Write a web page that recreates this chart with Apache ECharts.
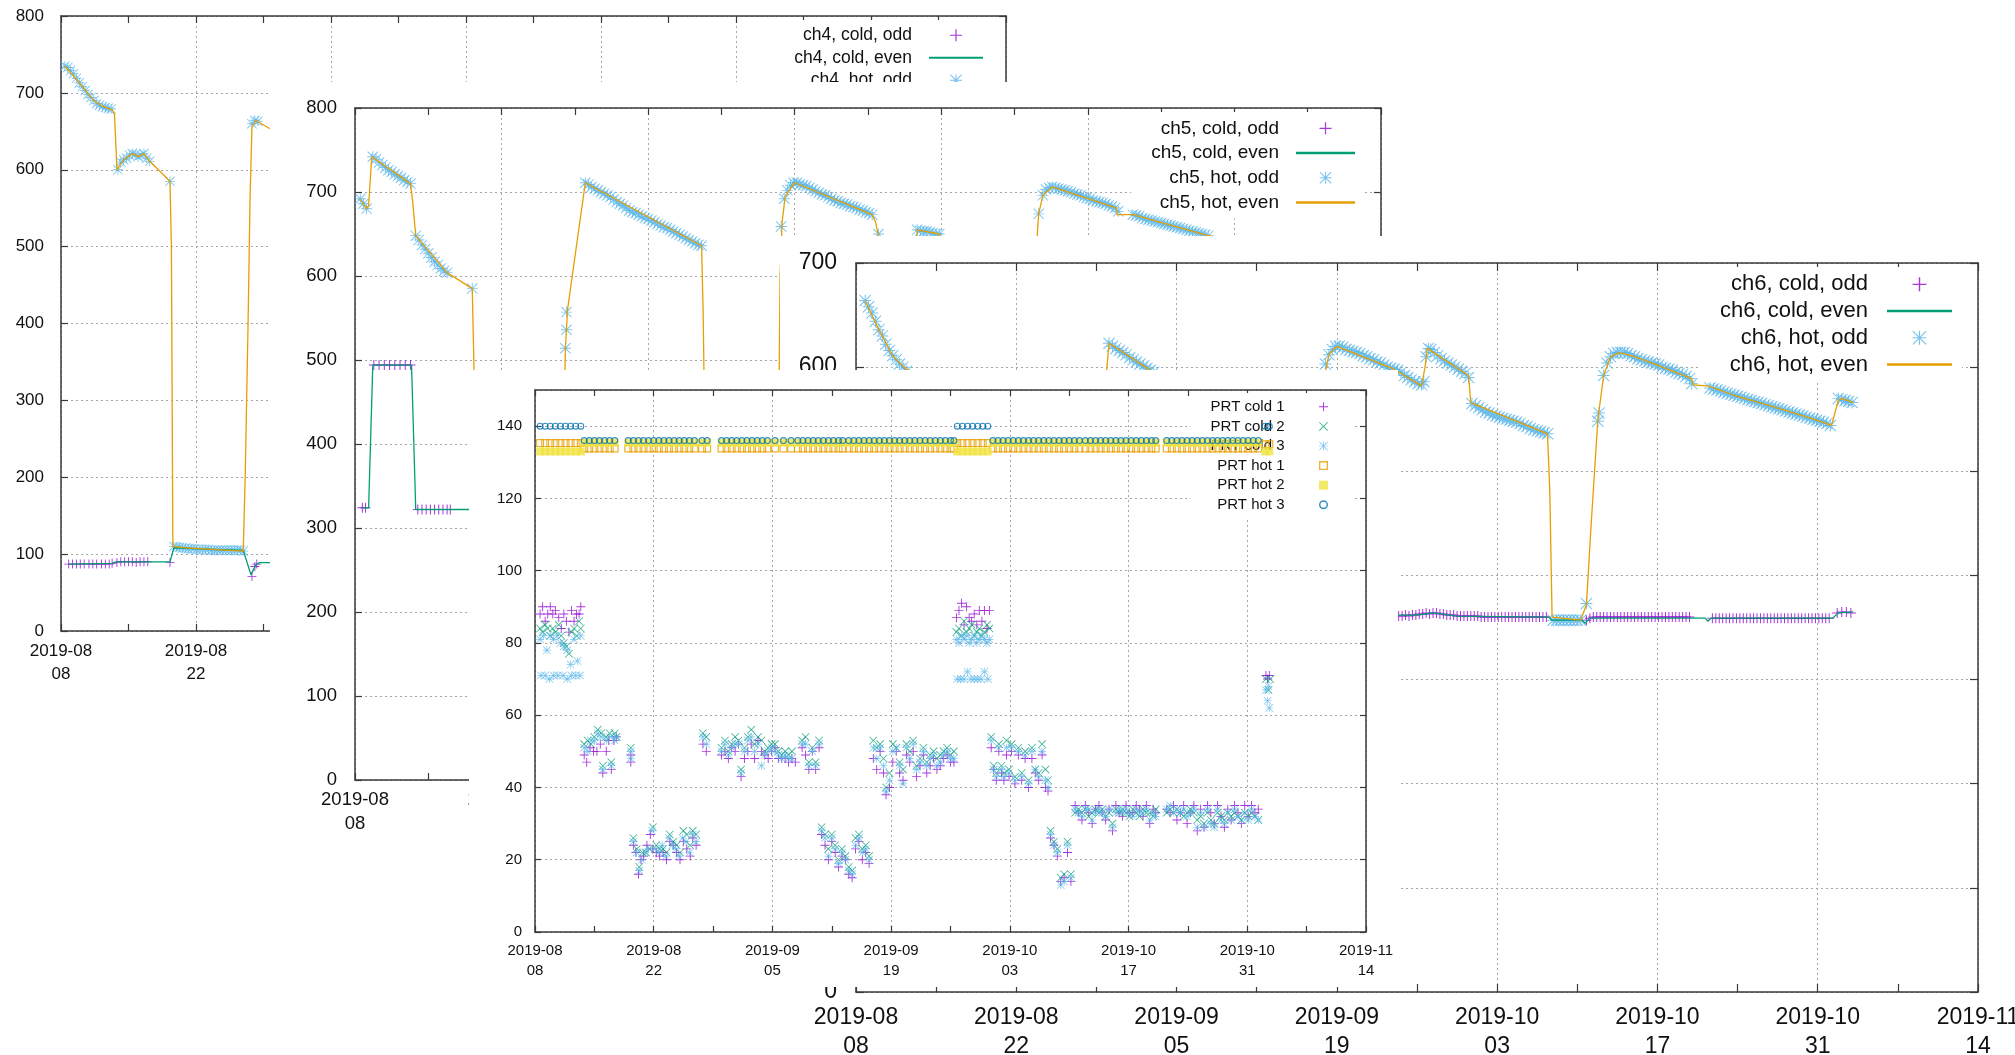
<!DOCTYPE html>
<html>
<head>
<meta charset="utf-8">
<script src="https://cdn.jsdelivr.net/npm/echarts@6/dist/echarts.min.js"></script>
<style>
html, body { margin: 0; padding: 0; background: #fff; width: 2015px; height: 1055px; overflow: hidden; }
.panel { position: absolute; background: #fff; }
#ch4 { left: 0; top: 0; width: 1010px; height: 700px; }
#ch5 { left: 270px; top: 82px; width: 1130px; height: 770px; }
#ch6 { left: 780px; top: 236px; width: 1235px; height: 819px; }
#prt { left: 469px; top: 370px; width: 929px; height: 617px; }
</style>
</head>
<body>
<div id="ch4" class="panel"></div>
<div id="ch5" class="panel"></div>
<div id="ch6" class="panel"></div>
<div id="prt" class="panel"></div>
<script>
// x is days since 2019-08-08, one major tick every 14 days
const dateTicks = ['2019-08\n08', '2019-08\n22', '2019-09\n05', '2019-09\n19', '2019-10\n03', '2019-10\n17', '2019-10\n31', '2019-11\n14']

// ---- ch4 ----
const ch4ColdOdd = [[0.8,87],[1.2,87],[1.6,87],[2.0,87],[2.4,87],[2.9,87],[3.3,87],[3.7,87],[4.2,87],[4.6,87],[5.0,87],[5.3,88],[5.8,89],[6.2,90],[6.6,90],[7.0,90],[7.4,90],[7.8,89],[8.2,90],[8.6,90],[9.0,90],[11.3,89],[19.8,71],[20.1,84],[20.3,87]]
const ch4ColdEven = [[0.8,87],[5.3,88],[5.7,90],[11.3,90],[11.7,108],[18.9,105],[19.7,73],[20.2,86],[20.6,89],[22,89]]
const ch4HotOdd = [[0.4,735],[0.7,733],[1.0,729],[1.3,725],[1.6,719],[1.9,713],[2.2,708],[2.5,703],[2.8,698],[3.1,694],[3.4,690],[3.7,686],[4.0,684],[4.3,682],[4.6,681],[4.9,680],[5.2,679],[5.9,600],[6.2,610],[6.5,613],[6.8,615],[7.1,619],[7.4,621],[7.7,620],[8.0,617],[8.3,619],[8.6,621],[8.9,615],[9.2,611],[11.3,585],
  [11.7,110],[12.0,109],[12.3,109],[12.6,108],[12.9,108],[13.2,107],[13.5,107],[13.8,107],[14.1,106],[14.4,106],[14.7,106],[15.0,106],[15.3,106],[15.6,105],[15.9,105],[16.2,105],[16.5,105],[16.8,105],[17.1,105],[17.4,105],[17.7,105],[18.0,105],[18.3,105],[18.6,105],[18.9,104],[19.8,660],[20.1,664],[20.4,663]]
const ch4HotEven = [[0.4,735],[1.9,713],[3.4,690],[4.4,682],[5.3,678],[5.55,672],[5.8,600],[6.5,613],[7.4,621],[8.0,617],[8.6,621],[9.2,611],[11.3,585],[11.45,500],[11.6,110],[13,108],[18.9,104],[19.1,200],[19.4,400],[19.6,560],[19.8,655],[20.2,664],[22,651]]

// ---- ch5 ----
const ch5ColdOdd = [[0.7,324],[1.0,324],[1.8,494],[2.3,494],[2.8,494],[3.3,494],[3.8,494],[4.3,494],[4.8,494],[5.3,494],[6.0,322],[6.4,322],[6.8,322],[7.2,322],[7.6,322],[8.0,322],[8.4,322],[8.8,322],[9.1,322]]
const ch5ColdEven = [[0.7,324],[1.3,324],[1.7,494],[5.4,494],[5.8,322],[11.0,322]]
const ch5HotOdd = [[0.5,692],[0.8,686],[1.1,680],[1.7,742],[2.0,739],[2.3,735],[2.6,732],[2.9,729],[3.2,726],[3.5,724],[3.8,721],[4.1,719],[4.4,717],[4.7,714],[5.0,712],[5.3,710],[5.8,648],[6.1,643],[6.4,637],[6.7,632],[7.0,627],[7.3,622],[7.6,617],[7.9,613],[8.2,609],[8.5,606],[8.8,604],[11.2,585],
  [20.1,514],[20.2,536],[20.2,557],[22.0,711],[22.3,709],[22.6,706],[22.9,704],[23.2,702],[23.5,700],[23.8,698],[24.1,696],[24.4,694],[24.7,691],[25.0,688],[25.3,686],[25.6,684],[25.9,681],[26.2,678],[26.5,676],[26.8,675],[27.1,673],[27.4,671],[27.7,669],[28.0,668],[28.3,666],[28.6,664],[28.9,662],[29.2,660],[29.5,658],[29.8,657],[30.1,655],[30.4,653],[30.7,651],[31.0,649],[31.3,647],[31.6,645],[31.9,643],[32.2,641],[32.5,639],[32.8,637],[33.1,636],
  [40.7,659],[41.0,692],[41.3,702],[41.6,708],[41.9,711],[42.2,711],[42.5,709],[42.8,708],[43.1,707],[43.4,705],[43.7,703],[44.0,701],[44.3,699],[44.6,697],[44.9,696],[45.2,694],[45.5,692],[45.8,690],[46.1,689],[46.4,687],[46.7,686],[47.0,685],[47.3,683],[47.6,682],[47.9,681],[48.2,679],[48.5,678],[48.8,676],[49.1,675],[49.4,673],[50.0,650],
  [53.7,655],[54.0,654],[54.3,653],[54.6,653],[54.9,652],[55.2,651],[55.5,650],[55.8,650],
  [65.3,674],[65.7,696],[66.0,703],[66.3,705],[66.6,706],[66.9,705],[67.2,704],[67.5,703],[67.8,702],[68.1,701],[68.4,700],[68.7,698],[69.0,697],[69.3,696],[69.6,694],[69.9,693],[70.2,692],[70.5,690],[70.8,689],[71.1,688],[71.4,687],[71.7,686],[72.0,684],[72.3,683],[72.6,681],[72.9,677],
  [74.3,673],[74.6,672],[74.9,671],[75.2,669],[75.5,668],[75.8,667],[76.1,666],[76.4,665],[76.7,664],[77.0,663],[77.3,662],[77.6,661],[77.9,660],[78.2,659],[78.5,658],[78.8,657],[79.1,656],[79.4,655],[79.7,654],[80.0,653],[80.3,652],[80.6,651],[80.9,650],[81.2,649],[81.5,648]]
const ch5HotEven = [[0.5,692],[1.1,680],[1.3,684],[1.6,742],[5.3,710],[5.5,690],[5.8,648],[8.8,604],[11.2,585],[11.35,500],[11.5,330],[19.8,330],[20.1,514],[20.3,560],[22.0,711],[33.1,636],[33.25,560],[33.5,330],[40.4,330],[40.6,600],[40.8,665],[41.1,695],[42.0,711],[49.4,673],[49.7,665],[50.0,648],[50.3,600],[53.4,600],[53.7,655],[55.8,650],[56.1,600],[64.9,600],[65.3,674],[65.7,696],[66.6,706],[72.7,681],[72.8,673],[74.3,673],[81.5,648],[87,636]]

// ---- ch6 ----
const ch6ColdOdd = [[47.4,361],[47.7,361],[48.0,362],[48.3,361],[48.6,362],[48.9,362],[49.2,363],[49.5,363],[49.8,364],[50.1,363],[50.4,364],[50.7,364],[51.0,363],[51.3,363],[51.6,362],[51.9,362],[52.2,362],[52.5,361],[52.8,361],[53.1,361],[53.4,361],[53.7,361],[54.0,361],[54.3,361],[54.6,360],[54.9,360],[55.2,360],[55.5,360],[55.8,360],[56.1,360],[56.4,360],[56.7,360],[57.0,360],[57.3,360],[57.6,360],[57.9,360],[58.2,360],[58.5,360],[58.8,360],[59.1,360],[59.4,360],[59.7,360],[60.0,360],[60.3,360],
  [63.8,357],[64.1,359],[64.4,360],[64.7,360],[65.0,360],[65.3,360],[65.6,360],[65.9,360],[66.2,360],[66.5,360],[66.8,360],[67.1,360],[67.4,360],[67.7,360],[68.0,360],[68.3,360],[68.6,360],[68.9,360],[69.2,360],[69.5,360],[69.8,360],[70.1,360],[70.4,360],[70.7,360],[71.0,360],[71.3,360],[71.6,360],[71.9,360],[72.2,360],[72.5,360],[72.8,360],
  [74.8,359],[75.1,359],[75.4,359],[75.7,359],[76.0,359],[76.3,359],[76.6,359],[76.9,359],[77.2,359],[77.5,359],[77.8,359],[78.1,359],[78.4,359],[78.7,359],[79.0,359],[79.3,359],[79.6,359],[79.9,359],[80.2,359],[80.5,359],[80.8,359],[81.1,359],[81.4,359],[81.7,359],[82.0,359],[82.3,359],[82.6,359],[82.9,359],[83.2,359],[83.5,359],[83.8,359],[84.1,359],[84.4,359],[84.7,359],[85.0,359],
  [85.7,364],[86.1,365],[86.5,365],[86.9,364]]
const ch6ColdEven = [[0.5,361],[49,362],[50.5,364],[52.5,361],[60.5,360],[60.8,357],[63.4,357],[63.7,354],[64.1,359],[73,359],[74.2,359],[74.4,356],[74.7,359],[85.3,359],[85.8,364],[87.1,365]]
const ch6HotOdd = [[0.8,664],[1.1,658],[1.4,652],[1.7,644],[2.0,636],[2.3,630],[2.6,622],[2.9,616],[3.2,611],[3.5,607],[3.8,603],[4.1,600],[4.4,596],[4.7,592],
  [22.1,623],[22.4,620],[22.7,618],[23.0,616],[23.3,614],[23.6,612],[23.9,609],[24.2,607],[24.5,605],[24.8,603],[25.1,601],[25.4,599],[25.7,597],[26.0,595],
  [41.0,603],[41.3,612],[41.6,617],[41.9,620],[42.2,620],[42.5,619],[42.8,617],[43.1,616],[43.4,615],[43.7,614],[44.0,613],[44.3,611],[44.6,610],[44.9,608],[45.2,607],[45.5,605],[45.8,604],[46.1,602],[46.4,600],[46.7,599],[47.0,598],[47.3,597],[47.6,595],[47.9,592],[48.2,590],[48.5,588],[48.8,586],[49.1,584],[49.4,583],[49.6,586],
  [49.8,610],[50.0,618],[50.2,617],[50.5,614],[50.8,611],[51.1,608],[51.4,606],[51.7,604],[52.0,602],[52.3,600],[52.6,598],[52.9,596],[53.2,594],[53.5,590],[53.8,565],[54.1,563],[54.4,561],[54.7,559],[55.0,557],[55.3,556],[55.6,554],[55.9,553],[56.2,552],[56.5,551],[56.8,550],[57.1,549],[57.4,548],[57.7,547],[58.0,546],[58.3,544],[58.6,543],[58.9,541],[59.2,540],[59.5,539],[59.8,538],[60.1,537],[60.4,536],
  [60.9,357],[61.2,357],[61.5,357],[61.8,357],[62.1,357],[62.4,357],[62.7,357],[63.0,357],[63.3,357],
  [63.8,373],[64.8,548],[64.9,556],[65.3,592],[65.6,604],[65.9,610],[66.2,613],[66.5,614],[66.8,614],[67.1,614],[67.4,613],[67.7,611],[68.0,610],[68.3,608],[68.6,607],[68.9,606],[69.2,605],[69.5,604],[69.8,603],[70.1,602],[70.4,600],[70.7,599],[71.0,598],[71.3,597],[71.6,595],[71.9,594],[72.2,593],[72.5,591],[72.8,589],[73.0,584],
  [74.6,580],[74.9,579],[75.2,578],[75.5,577],[75.8,576],[76.1,575],[76.4,574],[76.7,573],[77.0,572],[77.3,571],[77.6,570],[77.9,569],[78.2,568],[78.5,567],[78.8,566],[79.1,565],[79.4,564],[79.7,563],[80.0,562],[80.3,561],[80.6,560],[80.9,559],[81.2,558],[81.5,557],[81.8,556],[82.1,555],[82.4,554],[82.7,553],[83.0,552],[83.3,551],[83.6,550],[83.9,549],[84.2,548],[84.5,547],[84.8,546],[85.1,544],
  [85.8,570],[86.1,569],[86.4,568],[86.7,567],[87.0,566]]
const ch6HotEven = [[0.8,664],[2.0,636],[3.2,611],[4.2,600],[6,585],[10.5,570],[11,365],[21,362],[21.6,560],[22.1,623],[26,595],[33,575],[33.3,365],[40.5,362],[40.9,590],[41.3,612],[42.0,620],[47.0,598],[49.4,582],[49.7,600],[49.9,618],[53.5,592],[53.7,566],[60.4,536],[60.6,480],[60.8,360],[63.3,357],[63.8,372],[64.2,447],[64.8,550],[65.3,592],[65.9,610],[66.7,614],[68.0,610],[70.0,602],[73.0,589],[73.1,583],[74.4,582],[76.7,573],[80.1,562],[83.4,551],[85.2,544],[85.8,568],[86.1,570],[87.1,566]]

// ---- PRT ----
const prtHotDays = [0.6,1.2,1.8,2.4,3.0,3.6,4.2,4.8,5.4,
  5.8,6.4,7.0,7.6,8.2,8.8,9.4,
  11.0,11.6,12.2,12.8,13.4,14.0,14.6,15.2,15.8,16.4,17.0,17.6,18.2,18.8,
  19.7,20.3,
  22.0,22.6,23.2,23.8,24.4,25.0,25.6,26.2,26.8,27.4,
  28.3,29.3,30.2,
  31.0,31.6,32.2,32.8,33.4,34.0,34.6,35.2,35.8,36.3,
  37.0,37.6,38.2,38.8,39.4,40.0,40.6,41.2,41.8,42.4,43.0,43.6,44.2,44.8,45.4,46.0,46.6,47.2,47.8,48.4,49.0,49.4,
  49.8,50.4,51.0,51.6,52.2,52.8,53.4,
  54.0,54.6,55.2,55.8,56.4,57.0,57.6,58.2,58.8,59.4,60.0,60.6,61.2,61.8,62.4,63.0,63.6,64.2,64.9,65.5,66.1,66.7,67.3,67.9,68.5,69.1,69.7,70.3,70.9,71.5,72.1,72.7,73.2,
  74.5,75.1,75.7,76.3,76.9,77.5,78.1,78.7,79.3,79.9,80.5,81.1,81.7,82.3,82.9,83.5,84.1,84.7,85.3,
  86.1,86.6]
const prtHot1 = [135.3,135.3,135.3,135.3,135.3,135.3,135.3,135.3,135.3,
  133.8,133.8,133.8,133.8,133.8,133.8,133.8,
  133.8,133.8,133.8,133.8,133.8,133.8,133.8,133.8,133.8,133.8,133.8,133.8,133.8,133.8,
  133.8,133.8,
  133.8,133.8,133.8,133.8,133.8,133.8,133.8,133.8,133.8,133.8,
  133.8,133.8,133.8,
  133.8,133.8,133.8,133.8,133.8,133.8,133.8,133.8,133.8,133.8,
  133.8,133.8,133.8,133.8,133.8,133.8,133.8,133.8,133.8,133.8,133.8,133.8,133.8,133.8,133.8,133.8,133.8,133.8,133.8,133.8,133.8,133.8,
  135.3,135.3,135.3,135.3,135.3,135.3,135.3,
  133.8,133.8,133.8,133.8,133.8,133.8,133.8,133.8,133.8,133.8,133.8,133.8,133.8,133.8,133.8,133.8,133.8,133.8,133.8,133.8,133.8,133.8,133.8,133.8,133.8,133.8,133.8,133.8,133.8,133.8,133.8,133.8,133.8,
  133.8,133.8,133.8,133.8,133.8,133.8,133.8,133.8,133.8,133.8,133.8,133.8,133.8,133.8,133.8,133.8,133.8,133.8,133.8,
  135,135]
const prtHot2 = [133,133,133,133,133,133,133,133,133,
  135.4,135.4,135.4,135.4,135.4,135.4,135.4,
  135.4,135.4,135.4,135.4,135.4,135.4,135.4,135.4,135.4,135.4,135.4,135.4,135.4,135.4,
  135.4,135.4,
  135.4,135.4,135.4,135.4,135.4,135.4,135.4,135.4,135.4,135.4,
  135.4,135.4,135.4,
  135.4,135.4,135.4,135.4,135.4,135.4,135.4,135.4,135.4,135.4,
  135.4,135.4,135.4,135.4,135.4,135.4,135.4,135.4,135.4,135.4,135.4,135.4,135.4,135.4,135.4,135.4,135.4,135.4,135.4,135.4,135.4,135.4,
  133,133,133,133,133,133,133,
  135.4,135.4,135.4,135.4,135.4,135.4,135.4,135.4,135.4,135.4,135.4,135.4,135.4,135.4,135.4,135.4,135.4,135.4,135.4,135.4,135.4,135.4,135.4,135.4,135.4,135.4,135.4,135.4,135.4,135.4,135.4,135.4,135.4,
  135.4,135.4,135.4,135.4,135.4,135.4,135.4,135.4,135.4,135.4,135.4,135.4,135.4,135.4,135.4,135.4,135.4,135.4,135.4,
  133,133]
const prtHot3 = [140,140,140,140,140,140,140,140,140,
  136,136,136,136,136,136,136,
  136,136,136,136,136,136,136,136,136,136,136,136,136,136,
  136,136,
  136,136,136,136,136,136,136,136,136,136,
  136,136,136,
  136,136,136,136,136,136,136,136,136,136,
  136,136,136,136,136,136,136,136,136,136,136,136,136,136,136,136,136,136,136,136,136,136,
  140,140,140,140,140,140,140,
  136,136,136,136,136,136,136,136,136,136,136,136,136,136,136,136,136,136,136,136,136,136,136,136,136,136,136,136,136,136,136,136,136,
  136,136,136,136,136,136,136,136,136,136,136,136,136,136,136,136,136,136,136,
  140,140]

const prtCold1 = [[0.6,88],[0.9,90],[1.2,86],[1.5,88],[1.8,90],[2.1,88],[2.4,89],[2.8,87],[3.1,84],[3.4,88],[3.7,86],[4.0,83],[4.3,89],[4.6,86],[4.9,88],[5.2,88],[5.4,90],
  [5.8,49],[6.1,47],[6.5,51],[6.9,50],[7.3,50],[7.7,52],[8.0,44],[8.4,50],[8.7,53],[9.0,45],[9.3,53],[9.6,54],
  [11.3,47],[11.3,49],
  [11.6,24],[11.9,22],[12.2,16],[12.5,20],[12.8,21],[13.2,24],[13.6,27],[13.9,23],[14.3,22],[14.7,21],[15.1,22],[15.5,20],[15.9,25],[16.3,24],[16.7,22],[17.1,20],[17.5,25],[17.9,23],[18.3,21],[18.6,26],[19.0,24],
  [19.8,52],[20.2,50],
  [22.0,49],[22.4,50],[22.8,48],[23.2,51],[23.6,50],[24.0,52],[24.3,43],[24.7,48],[25.1,50],[25.5,52],[25.9,48],[26.3,53],[26.7,50],[27.1,49],[27.5,48],[27.9,50],[28.3,51],[28.7,48],[29.1,48],[29.5,48],[29.9,47],[30.3,48],[30.7,47],[31.5,51],[31.9,49],[32.3,45],[32.7,50],[33.1,45],[33.5,51],
  [33.8,27],[34.2,24],[34.6,20],[35.0,25],[35.4,22],[35.8,18],[36.2,21],[36.6,20],[37.0,16],[37.4,15],[37.8,23],[38.2,25],[38.6,20],[39.0,22],[39.4,19],
  [39.9,48],[40.3,45],[40.7,50],[41.1,44],[41.4,38],[41.8,40],[42.2,47],[42.6,50],[43.0,44],[43.4,42],[43.8,49],[44.2,47],[44.6,50],[45.0,43],[45.4,46],[45.8,49],[46.2,44],[46.6,46],[47.0,48],[47.4,45],[47.8,46],[48.2,48],[48.6,49],[49.0,47],[49.4,47],
  [49.7,87],[50.0,89],[50.3,91],[50.6,85],[50.9,90],[51.2,87],[51.5,86],[51.8,88],[52.1,85],[52.4,89],[52.7,86],[53.0,89],[53.3,84],[53.6,89],
  [53.8,51],[54.1,45],[54.4,42],[54.7,50],[55.0,44],[55.3,42],[55.6,49],[55.9,43],[56.2,50],[56.6,41],[57.0,49],[57.4,42],[57.8,48],[58.2,40],[58.6,48],[59.0,44],[59.4,42],[59.8,49],[60.2,40],[60.5,39],
  [60.8,26],[61.2,24],[61.6,21],[62.0,14],[62.4,15],[62.8,22],[63.2,14],
  [63.7,35],[64.1,33],[64.5,31],[64.9,35],[65.3,33],[65.7,30],[66.1,34],[66.5,35],[66.9,33],[67.3,31],[67.7,34],[68.1,28],[68.5,35],[68.9,33],[69.3,32],[69.7,35],[70.1,33],[70.5,33],[70.9,35],[71.3,34],[71.7,32],[72.1,35],[72.5,30],[72.9,34],[73.2,33],
  [74.5,34],[74.9,33],[75.3,35],[75.7,31],[76.1,33],[76.5,35],[76.9,30],[77.3,33],[77.7,35],[78.1,28],[78.5,34],[78.9,29],[79.3,35],[79.7,33],[80.1,30],[80.5,35],[80.9,32],[81.3,29],[81.7,34],[82.1,31],[82.5,35],[82.9,33],[83.3,30],[83.7,35],[84.1,32],[84.5,35],[84.9,33],[85.3,34],
  [86.2,71],[86.4,70],[86.6,71]]
const prtCold2 = [[0.6,84],[0.9,83],[1.2,85],[1.5,84],[1.8,82],[2.1,84],[2.4,83],[2.8,85],[3.1,82],[3.4,80],[3.7,79],[4.0,77],[4.3,83],[4.6,84],[4.9,82],[5.2,86],[5.4,84],
  [5.8,52],[6.2,53],[6.6,52],[7.0,54],[7.4,56],[7.8,55],[8.0,46],[8.4,54],[8.8,55],[9.0,47],[9.4,55],[9.6,54],
  [11.3,51],
  [11.6,26],[12.0,23],[12.3,18],[12.7,22],[13.1,22],[13.5,23],[13.9,29],[14.3,24],[14.7,23],[15.1,23],[15.5,22],[15.9,27],[16.3,25],[16.7,24],[17.1,22],[17.5,28],[17.9,27],[18.3,24],[18.6,28],[19.0,27],
  [19.8,55],[20.2,54],
  [22.0,51],[22.4,53],[22.8,50],[23.2,52],[23.6,54],[24.0,53],[24.3,45],[24.7,51],[25.1,54],[25.5,56],[25.9,52],[26.3,54],[26.7,53],[27.1,50],[27.5,51],[27.9,52],[28.3,52],[28.7,50],[29.1,49],[29.5,50],[29.9,49],[30.3,50],[31.5,53],[31.9,54],[32.3,47],[32.7,51],[33.1,47],[33.5,53],
  [33.8,29],[34.2,27],[34.6,23],[35.0,27],[35.4,24],[35.8,20],[36.2,23],[36.6,21],[37.0,18],[37.4,17],[37.8,26],[38.2,27],[38.6,23],[39.0,24],[39.4,21],
  [39.9,53],[40.3,51],[40.7,52],[41.1,48],[41.4,40],[41.8,44],[42.2,52],[42.6,51],[43.0,47],[43.4,45],[43.8,52],[44.2,50],[44.6,53],[45.0,46],[45.4,48],[45.8,51],[46.2,47],[46.6,49],[47.0,50],[47.4,48],[47.8,49],[48.2,50],[48.6,51],[49.0,49],[49.4,50],
  [49.7,83],[50.0,84],[50.3,82],[50.6,86],[50.9,83],[51.2,84],[51.5,85],[51.8,82],[52.1,83],[52.4,84],[52.7,82],[53.0,83],[53.3,85],[53.6,84],
  [53.8,54],[54.1,46],[54.4,44],[54.7,52],[55.0,46],[55.3,44],[55.6,53],[55.9,45],[56.2,52],[56.6,43],[57.0,51],[57.4,44],[57.8,50],[58.2,42],[58.6,51],[59.0,45],[59.4,44],[59.8,52],[60.2,45],[60.5,42],
  [60.8,28],[61.2,25],[61.6,23],[62.0,15],[62.4,16],[62.8,25],[63.2,16],
  [63.7,33],[64.1,34],[64.5,33],[64.9,34],[65.3,32],[65.7,33],[66.1,34],[66.5,33],[66.9,34],[67.3,32],[67.7,33],[68.1,30],[68.5,34],[68.9,33],[69.3,34],[69.7,33],[70.1,32],[70.5,34],[70.9,33],[71.3,32],[71.7,34],[72.1,33],[72.5,33],[72.9,32],[73.2,34],
  [74.5,33],[74.9,34],[75.3,33],[75.7,34],[76.1,33],[76.5,32],[76.9,33],[77.3,34],[77.7,33],[78.1,31],[78.5,32],[78.9,30],[79.3,33],[79.7,31],[80.1,30],[80.5,33],[80.9,32],[81.3,31],[81.7,33],[82.1,32],[82.5,33],[82.9,32],[83.3,31],[83.7,33],[84.1,32],[84.5,33],[84.9,32],[85.3,31],
  [86.2,70],[86.5,67],[86.7,70]]
const prtCold3 = [[0.6,81],[1.0,82],[1.4,78],[1.8,82],[2.2,81],[2.6,82],[3.0,80],[3.4,79],[3.8,78],[4.2,74],[4.6,81],[5.0,75],[5.4,82],
  [0.7,71],[1.2,71],[1.7,70],[2.2,71],[2.7,71],[3.3,71],[3.8,70],[4.3,71],[4.8,71],[5.3,71],
  [5.8,51],[6.2,50],[6.6,53],[7.0,53],[7.4,55],[7.8,54],[8.0,45],[8.4,53],[8.8,54],[9.0,46],[9.4,53],[9.6,54],
  [11.3,50],[11.3,48],
  [11.6,25],[12.0,22],[12.3,17],[12.6,20],[13.0,22],[13.4,23],[13.8,28],[14.2,23],[14.6,22],[15.0,24],[15.4,21],[15.8,26],[16.2,24],[16.6,23],[17.0,21],[17.4,26],[17.8,25],[18.2,22],[18.6,27],[19.0,25],
  [19.8,54],[20.2,52],
  [22.0,50],[22.4,52],[22.8,49],[23.2,51],[23.6,52],[24.0,52],[24.3,44],[24.7,50],[25.1,53],[25.5,54],[25.9,50],[26.3,52],[26.7,46],[27.1,49],[27.5,50],[27.9,51],[28.3,50],[28.7,49],[29.1,48],[29.5,49],[29.9,48],[30.3,48],[31.5,52],[31.9,52],[32.3,46],[32.7,50],[33.1,46],[33.5,52],
  [33.8,28],[34.2,26],[34.6,21],[35.0,26],[35.4,23],[35.8,19],[36.2,22],[36.6,20],[37.0,17],[37.4,16],[37.8,24],[38.2,26],[38.6,22],[39.0,23],[39.4,20],
  [39.9,51],[40.3,48],[40.7,51],[41.1,46],[41.4,39],[41.8,42],[42.2,50],[42.6,51],[43.0,46],[43.4,41],[43.8,51],[44.2,48],[44.6,52],[45.0,45],[45.4,47],[45.8,50],[46.2,46],[46.6,48],[47.0,49],[47.4,46],[47.8,47],[48.2,49],[48.6,50],[49.0,48],[49.4,48],
  [49.7,81],[50.0,80],[50.3,82],[50.6,81],[50.9,82],[51.2,80],[51.5,81],[51.8,82],[52.1,80],[52.4,81],[52.7,82],[53.0,81],[53.3,80],[53.6,81],
  [49.8,70],[50.2,70],[50.6,70],[51.0,72],[51.4,70],[51.8,70],[52.2,70],[52.6,70],[53.0,72],[53.4,70],
  [53.8,53],[54.1,45],[54.4,43],[54.7,51],[55.0,45],[55.3,43],[55.6,51],[55.9,44],[56.2,51],[56.6,42],[57.0,50],[57.4,43],[57.8,49],[58.2,41],[58.6,50],[59.0,45],[59.4,43],[59.8,50],[60.2,42],[60.5,40],
  [60.8,27],[61.2,24],[61.6,22],[62.0,13],[62.4,14],[62.8,24],[63.2,15],
  [63.7,34],[64.1,33],[64.5,32],[64.9,34],[65.3,34],[65.7,31],[66.1,33],[66.5,34],[66.9,33],[67.3,32],[67.7,34],[68.1,29],[68.5,33],[68.9,34],[69.3,33],[69.7,34],[70.1,33],[70.5,32],[70.9,34],[71.3,33],[71.7,33],[72.1,34],[72.5,31],[72.9,33],[73.2,32],
  [74.5,34],[74.9,35],[75.3,33],[75.7,34],[76.1,33],[76.5,34],[76.9,32],[77.3,33],[77.7,34],[78.1,29],[78.5,33],[78.9,29],[79.3,34],[79.7,30],[80.1,29],[80.5,34],[80.9,31],[81.3,30],[81.7,33],[82.1,31],[82.5,34],[82.9,32],[83.3,31],[83.7,33],[84.1,31],[84.5,34],[84.9,32],[85.3,31],
  [86.2,67],[86.4,64],[86.5,68],[86.6,62]]

// ---- styling ----
const FONT = '"Liberation Sans", Arial, sans-serif'
const TEXT = '#111'
const AXIS = '#3a3a3a'
const GRID = '#a6a6a6'
const PURPLE = '#9400d3'
const GREEN = '#009e73'
const CYAN = '#56b4e9'
const ORANGE = '#e69f00'
const YELLOW = '#f0e442'
const BLUE = '#0072b2'

// gnuplot point types as filled paths
const PLUS = 'path://M9,0h2v20h-2zM0,9h20v2h-20z'
const CROSS = 'path://M0,1.4L1.4,0L20,18.6L18.6,20zM18.6,0L20,1.4L1.4,20L0,18.6z'
const STAR = 'path://M9.2,0h1.6v20h-1.6zM0,9.2h20v1.6h-20zM0,1.2L1.2,0L20,18.8L18.8,20zM18.8,0L20,1.2L1.2,20L0,18.8z'
const OPEN_SQ = 'path://M0,0h10v10h-10zM1.5,1.5v7h7v-7z'
const FILL_SQ = 'path://M0,0h10v10h-10z'
const OPEN_CIRCLE = 'path://M10,0A10,10 0 1,1 10,20A10,10 0 1,1 10,0zM10,3.2A6.8,6.8 0 1,0 10,16.8A6.8,6.8 0 1,0 10,3.2z'
const LINE_KEY = 'path://M0,0H100V4H0z'

const dateLabel = (v) => dateTicks[Math.round(v / 14)]

const buildAxes = (o) => {
  const line = { show: true, onZero: false, lineStyle: { color: AXIS, width: 1.5 } }
  const tick = { show: true, inside: true, length: o.tick, lineStyle: { color: AXIS, width: 1.2 } }
  const minor = { show: true, splitNumber: 2, length: o.tick, lineStyle: { color: AXIS, width: 1.2 } }
  const grid = { show: true, lineStyle: { color: GRID, width: 1, type: [2, 3] } }
  const xBase = { type: 'value', min: 0, max: 98, interval: 14, axisLine: line, axisTick: tick, minorTick: minor }
  const yBase = { type: 'value', min: 0, max: o.ymax, interval: o.yint, axisLine: line, axisTick: tick }
  return {
    xAxis: [
      Object.assign({}, xBase, {
        position: 'bottom', splitLine: grid,
        axisLabel: { fontFamily: FONT, fontSize: o.font, lineHeight: o.lh, margin: o.xm, color: TEXT, formatter: dateLabel }
      }),
      Object.assign({}, xBase, { position: 'top', splitLine: { show: false }, axisLabel: { show: false } })
    ],
    yAxis: [
      Object.assign({}, yBase, {
        position: 'left', splitLine: grid,
        axisLabel: { fontFamily: FONT, fontSize: o.font, margin: o.ym, color: TEXT, showMaxLabel: o.showMax }
      }),
      Object.assign({}, yBase, { position: 'right', splitLine: { show: false }, axisLabel: { show: false } })
    ]
  }
}

const buildLegend = (o) => ({
  orient: 'vertical',
  align: 'right',
  right: o.right,
  top: o.top,
  itemWidth: o.iw,
  itemHeight: o.ih,
  itemGap: 0,
  padding: o.padding || [4, 10, 4, 20],
  backgroundColor: '#fff',
  z: 1,
  selectedMode: false,
  textStyle: { fontFamily: FONT, fontSize: o.font, lineHeight: o.lh, color: TEXT, padding: [0, o.pad, 0, 0] },
  data: o.data
})

const points = (name, data, symbol, size, color) => ({
  name, type: 'scatter', data, symbol, symbolSize: size, itemStyle: { color }, silent: true
})
const trace = (name, data, color) => ({
  name, type: 'line', data, symbol: 'none', showSymbol: false, silent: true,
  lineStyle: { color, width: 1.3 }, itemStyle: { color }
})

const channelChart = (id, ch, layout) => {
  const chart = echarts.init(document.getElementById(id))
  const [coldOdd, coldEven, hotOdd, hotEven] = layout.data
  chart.setOption(Object.assign({
    animation: false,
    grid: Object.assign({ outerBoundsMode: 'none', containLabel: false }, layout.grid),
    legend: buildLegend(Object.assign({}, layout.legend, {
      data: [
        { name: ch + ', cold, odd', icon: PLUS },
        { name: ch + ', cold, even', icon: LINE_KEY },
        { name: ch + ', hot, odd', icon: STAR },
        { name: ch + ', hot, even', icon: LINE_KEY }
      ]
    })),
    series: [
      points(ch + ', cold, odd', coldOdd, PLUS, layout.plus, PURPLE),
      trace(ch + ', cold, even', coldEven, GREEN),
      points(ch + ', hot, odd', hotOdd, STAR, layout.star, CYAN),
      trace(ch + ', hot, even', hotEven, ORANGE)
    ]
  }, buildAxes(layout.axes)))
}

channelChart('ch4', 'ch4', {
  data: [ch4ColdOdd, ch4ColdEven, ch4HotOdd, ch4HotEven],
  grid: { left: 61, top: 16, width: 945, height: 615 },
  axes: { ymax: 800, yint: 100, font: 17, lh: 23, xm: 9, ym: 17, tick: 7 },
  legend: { right: 17, top: 20, iw: 54, ih: 12, font: 17.5, lh: 22.5, pad: 12 },
  plus: 9, star: 10
})

channelChart('ch5', 'ch5', {
  data: [ch5ColdOdd, ch5ColdEven, ch5HotOdd, ch5HotEven],
  grid: { left: 85, top: 26, width: 1026, height: 672 },
  axes: { ymax: 800, yint: 100, font: 18.5, lh: 24, xm: 8, ym: 18, tick: 7 },
  legend: { right: 35, top: 30, iw: 59, ih: 12, font: 19, lh: 24.7, pad: 12 },
  plus: 10, star: 11
})

channelChart('ch6', 'ch6', {
  data: [ch6ColdOdd, ch6ColdEven, ch6HotOdd, ch6HotEven],
  grid: { left: 76, top: 27, width: 1122, height: 729 },
  axes: { ymax: 700, yint: 100, font: 23, lh: 29, xm: 11, ym: 19, tick: 8 },
  legend: { right: 53, top: 31, iw: 65, ih: 14, font: 22, lh: 26.7, pad: 14 },
  plus: 10, star: 12
})

// PRT temperatures
const prt = echarts.init(document.getElementById('prt'))
const zipHot = (vals) => prtHotDays.map((d, i) => [d, vals[i]])
prt.setOption(Object.assign({
  animation: false,
  grid: { left: 66, top: 20, width: 831, height: 542, outerBoundsMode: 'none', containLabel: false },
  legend: buildLegend({
    right: 44, top: 23, iw: 60, ih: 9, font: 15, lh: 19.6, pad: 4, padding: [4, 26, 4, 20],
    data: [
      { name: 'PRT cold 1', icon: PLUS },
      { name: 'PRT cold 2', icon: CROSS },
      { name: 'PRT cold 3', icon: STAR },
      { name: 'PRT hot 1', icon: OPEN_SQ },
      { name: 'PRT hot 2', icon: FILL_SQ },
      { name: 'PRT hot 3', icon: OPEN_CIRCLE }
    ]
  }),
  series: [
    points('PRT cold 1', prtCold1, PLUS, 9, PURPLE),
    points('PRT cold 2', prtCold2, CROSS, 8, GREEN),
    points('PRT cold 3', prtCold3, STAR, 8, CYAN),
    points('PRT hot 1', zipHot(prtHot1), OPEN_SQ, 8, ORANGE),
    points('PRT hot 2', zipHot(prtHot2), FILL_SQ, 8, YELLOW),
    points('PRT hot 3', zipHot(prtHot3), OPEN_CIRCLE, 7, BLUE)
  ]
}, buildAxes({ ymax: 150, yint: 20, font: 15, lh: 20, xm: 9, ym: 13, tick: 6, showMax: false })))
</script>
</body>
</html>
